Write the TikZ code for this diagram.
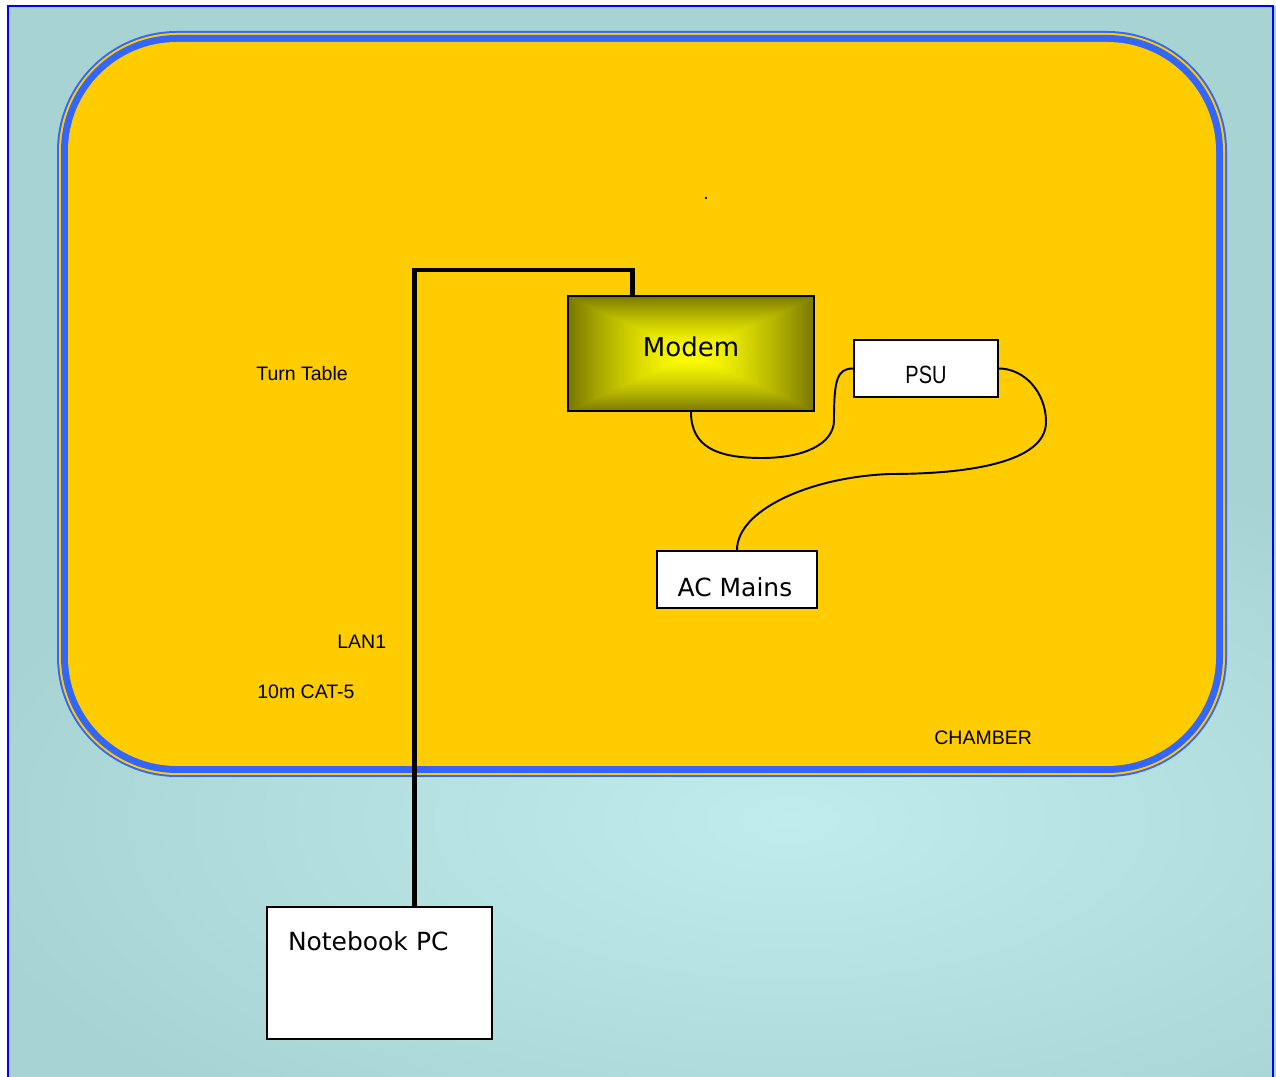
\documentclass[tikz,border=0pt]{standalone}
\usepackage{fontspec}
\setmainfont{DejaVu Sans}
\newfontfamily\labelfont{Liberation Sans}
\newfontfamily\narrowfont[FakeStretch=0.8]{Liberation Sans}
\usepackage{tikz}
\usetikzlibrary{calc}
\usepackage{xcolor}

\definecolor{chamberyellow}{HTML}{FFCC00}
\definecolor{chamberblue}{HTML}{3366FF}
\definecolor{roomteal}{HTML}{A8D3D3}
\definecolor{roomglow}{HTML}{BFECEC}

\newdimen\px \px=0.02cm
\newcommand\nudge[2]{\raisebox{#1\px}[\height][\depth]{#2}}

% bright centre, olive edges
\pgfdeclarefunctionalshading{modemglow}{\pgfpoint{-50bp}{-50bp}}{\pgfpoint{50bp}{50bp}}{}{%
  abs exch abs 2 copy lt {exch} if pop 25 div dup sqrt mul -0.53 mul 1 add dup 0}

\begin{document}
\begin{tikzpicture}[x=0.02cm,y=-0.02cm,
	device/.style={draw=black,line width=1.1pt,inner sep=0pt},
	box/.style={device,fill=white},
	bigtext/.style={font=\fontsize{14.2}{17}\selectfont},
	smalltext/.style={font=\labelfont\fontsize{11.1}{13}\selectfont,inner sep=0pt},
	cable/.style={line width=1.1pt,line cap=round},
	lan/.style={line width=2.6pt}]
		
		% Room
		\useasboundingbox (0,0) rectangle (1276,1077);
		\fill[roomteal] (8,6) rectangle (1276,1077);
		\begin{scope}
			\clip (8,6) rectangle (1276,1077);
			\shade[inner color=roomglow,outer color=roomteal] (790,820) ellipse (850 and 380);
		\end{scope}
		\draw[blue,line width=1.1pt] (8,1100) |- (1273,6) -- (1273,1100);
		
		% Chamber (double border)
		\fill[chamberblue,rounded corners=120\px] (57,31) rectangle (1227,777);
		\fill[chamberyellow,rounded corners=118\px] (59,33) rectangle (1225,775);
		\fill[chamberblue,rounded corners=116\px] (61,35) rectangle (1223,773);
		\fill[chamberyellow,rounded corners=109\px] (68,42) rectangle (1216,766);
		
		% Devices
		\node[device,shading=modemglow,minimum width=246\px,minimum height=115\px,font=\fontsize{14.8}{17}\selectfont]
		(modem) at (691,353.5) {\nudge{6.5}{Modem}};
		\node[box,minimum width=144\px,minimum height=57\px,font=\narrowfont\fontsize{14.2}{17}\selectfont]
		(psu) at (926,368.5) {\nudge{-6.5}{PSU}};
		\node[box,minimum width=160\px,minimum height=57\px,bigtext]
		(mains) at (737,579.5) {\nudge{-7.5}{\hspace*{-4\px}AC Mains}};
		\node[box,minimum width=225\px,text width=183\px,align=left,text height=44\px,text depth=88\px,bigtext]
		(pc) at (379.5,973) {Notebook PC};
		
		% Labels
		\node[smalltext,anchor=west] (turntable) at (256,374) {Turn Table};
		\node[smalltext,anchor=west] (lan1) at (337,642) {LAN1};
		\node[smalltext,anchor=west] (cat5) at (257,692) {10m CAT-5};
		\node[smalltext,anchor=west] (chamber) at (934,738) {CHAMBER};
		\node[smalltext,anchor=base] (dot) at (706,200) {.};
		
		% LAN cable
		\coordinate (pcport) at ($(pc.north west)!0.653!(pc.north east)$);
		\coordinate (modemport) at ($(modem.north west)!0.264!(modem.north east)$);
		\draw[lan] (pcport) |- ($(modemport)+(0,-25)$) -- (modemport);
		
		% Power leads
		\coordinate (dipA) at (762,458);
		\coordinate (dipB) at (834,420);
		\coordinate (loopC) at (1046,422);
		\coordinate (loopD) at (890,474);
		\draw[cable] (modem.south) .. controls +(0,35) and +(-45,0) .. (dipA)
		.. controls +(40,0) and +(0,25) .. (dipB)
		.. controls +(0,-40) and +(-16,0) .. (psu.west);
		\draw[cable] (psu.east) .. controls +(25,0) and +(0,-30) .. (loopC)
		.. controls +(0,40) and +(80,0) .. (loopD)
		.. controls +(-80,3) and +(0,-40) .. (mains.north);
		
	\end{tikzpicture}
\end{document}
